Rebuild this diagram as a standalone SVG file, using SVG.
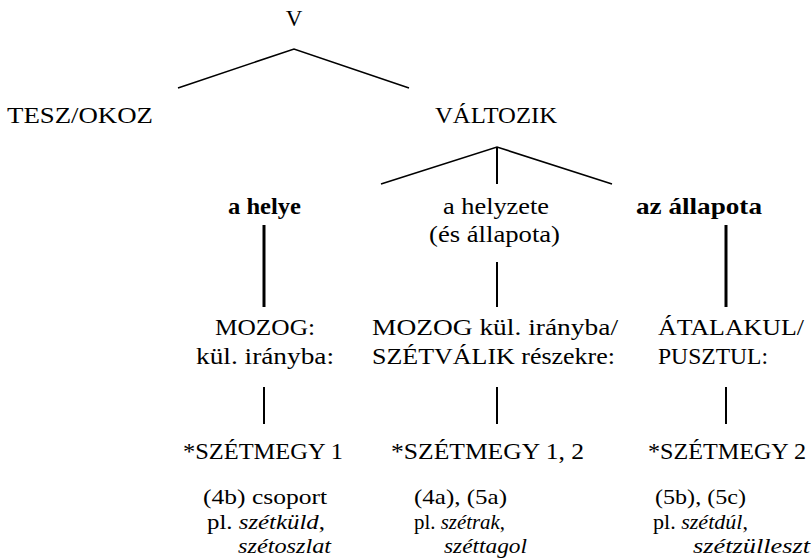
<svg xmlns="http://www.w3.org/2000/svg" width="812" height="560" viewBox="0 0 812 560">
<style>
text { font-family: "Liberation Serif", "Times New Roman", serif; font-size: 23px; fill: #000; }
.ex text { font-size: 21px; }
.b { font-weight: bold; }
.i { font-style: italic; }
.m { text-anchor: middle; }
.thin { stroke: #000; stroke-width: 1.6; fill: none; }
.thick { stroke: #000; stroke-width: 3; fill: none; }
.med { stroke: #000; stroke-width: 2; fill: none; }
</style>
<rect width="812" height="560" fill="#fff"/>
<g id="connectors">
  <polyline class="thin" points="178,88 294,49 409,88"/>
  <polyline class="thin" points="381,184 497,147 612,184"/>
  <line class="med" x1="497" y1="147" x2="497" y2="184"/>
  <line class="thick" x1="264" y1="225" x2="264" y2="307"/>
  <line class="med" x1="497" y1="262" x2="497" y2="307"/>
  <line class="thick" x1="726" y1="225" x2="726" y2="307"/>
  <line class="med" x1="264" y1="387" x2="264" y2="424"/>
  <line class="med" x1="497" y1="387" x2="497" y2="424"/>
  <line class="med" x1="726" y1="387" x2="726" y2="424"/>
</g>
<g id="node-v"><text class="m" x="294" y="26">V</text></g>
<g id="node-tesz"><text x="7" y="123" textLength="146" lengthAdjust="spacingAndGlyphs">TESZ/OKOZ</text></g>
<g id="node-valtozik"><text x="435" y="123" textLength="122" lengthAdjust="spacingAndGlyphs">VÁLTOZIK</text></g>
<g id="node-helye"><text class="b" x="228" y="214" textLength="73" lengthAdjust="spacingAndGlyphs">a helye</text></g>
<g id="node-helyzete">
  <text x="443" y="214" textLength="106" lengthAdjust="spacingAndGlyphs">a helyzete</text>
  <text x="429" y="242" textLength="131" lengthAdjust="spacingAndGlyphs">(és állapota)</text>
</g>
<g id="node-allapota"><text class="b" x="636" y="214" textLength="126" lengthAdjust="spacingAndGlyphs">az állapota</text></g>
<g id="node-mozog">
  <text x="215" y="335" textLength="100" lengthAdjust="spacingAndGlyphs">MOZOG:</text>
  <text x="196" y="364" textLength="138" lengthAdjust="spacingAndGlyphs">kül. irányba:</text>
</g>
<g id="node-mozog-szetvalik">
  <text x="372" y="335" textLength="246" lengthAdjust="spacingAndGlyphs">MOZOG kül. irányba/</text>
  <text x="372" y="364" textLength="243" lengthAdjust="spacingAndGlyphs">SZÉTVÁLIK részekre:</text>
</g>
<g id="node-atalakul">
  <text x="658" y="335" textLength="146" lengthAdjust="spacingAndGlyphs">ÁTALAKUL/</text>
  <text x="658" y="364" textLength="110" lengthAdjust="spacingAndGlyphs">PUSZTUL:</text>
</g>
<g id="node-szetmegy1"><text x="183" y="459" textLength="160" lengthAdjust="spacingAndGlyphs">*SZÉTMEGY 1</text></g>
<g id="node-szetmegy12"><text x="391" y="459" textLength="193" lengthAdjust="spacingAndGlyphs">*SZÉTMEGY 1, 2</text></g>
<g id="node-szetmegy2"><text x="648" y="459" textLength="158" lengthAdjust="spacingAndGlyphs">*SZÉTMEGY 2</text></g>
<g id="node-ex1" class="ex">
  <text x="203" y="504" textLength="124" lengthAdjust="spacingAndGlyphs">(4b) csoport</text>
  <text x="207" y="529" textLength="118" lengthAdjust="spacingAndGlyphs">pl. <tspan class="i">szétküld</tspan>,</text>
  <text x="238" y="553" class="i" textLength="93" lengthAdjust="spacingAndGlyphs">szétoszlat</text>
</g>
<g id="node-ex2" class="ex">
  <text x="414" y="504" textLength="93" lengthAdjust="spacingAndGlyphs">(4a), (5a)</text>
  <text x="414" y="529" textLength="91" lengthAdjust="spacingAndGlyphs">pl. <tspan class="i">szétrak</tspan>,</text>
  <text x="444" y="553" class="i" textLength="83" lengthAdjust="spacingAndGlyphs">széttagol</text>
</g>
<g id="node-ex3" class="ex">
  <text x="655" y="504" textLength="91" lengthAdjust="spacingAndGlyphs">(5b), (5c)</text>
  <text x="653" y="529" textLength="95" lengthAdjust="spacingAndGlyphs">pl. <tspan class="i">szétdúl</tspan>,</text>
  <text x="693" y="553" class="i" textLength="117" lengthAdjust="spacingAndGlyphs">szétzülleszt</text>
</g>
</svg>
